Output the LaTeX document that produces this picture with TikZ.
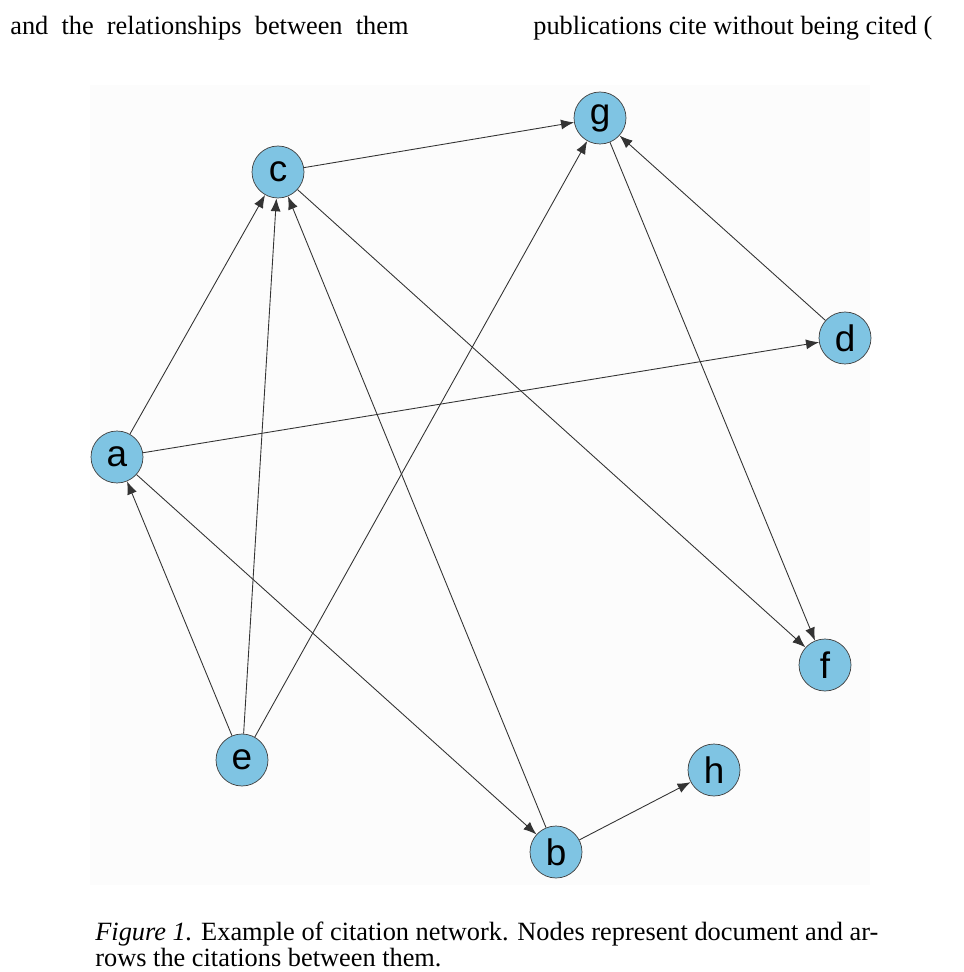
\documentclass[tikz,border=0pt]{standalone}
\usepackage{fontspec}
\newfontfamily\labelfont{Liberation Sans}
\setmainfont{Liberation Serif}
\usetikzlibrary{arrows.meta}
\definecolor{docblue}{HTML}{7FC4E3}
\tikzset{
	doc/.style={circle, draw=black!75, fill=docblue, minimum size=1.04cm, inner sep=0pt, font=\labelfont\fontsize{21}{21}\selectfont}, % documentos
	cite/.style={-{Latex[length=2.6mm,width=2mm]}, draw=black!80, line width=0.5pt}, % citas
	prose/.style={anchor=base west, inner sep=0pt, font=\fontsize{15}{16}\selectfont}
}
\begin{document}
\begin{tikzpicture}[x=0.02cm, y=-0.02cm]
	\useasboundingbox (0,0) rectangle (963,972);
	\clip (0,0) rectangle (963,972);
	\fill[black!1] (90,85) rectangle (870,885);
	% texto alrededor
	\node[prose] (t2) at (10,35) {and \ the \ relationships \ between \ them};
	\node[prose] (t4) at (533,35) {publications cite without being cited (};
	\node[prose] (cap1) at (95,940) {\textit{Figure 1.} Example of citation network. Nodes represent document and ar-};
	\node[prose] (cap2) at (95,966) {rows the citations between them.};
	% nodos
	\node[doc] (c) at (278,172) {c};
	\node[doc] (g) at (600,118) {g};
	\node[doc] (d) at (845,338) {d};
	\node[doc] (a) at (117,457) {a};
	\node[doc] (f) at (825,665) {f};
	\node[doc] (e) at (242,760) {e};
	\node[doc] (h) at (714,770) {h};
	\node[doc] (b) at (556,852) {b};
	% citas
	\draw[cite] (c) -- (g);
	\draw[cite] (a) -- (c);
	\draw[cite] (e) -- (c);
	\draw[cite] (b) -- (c);
	\draw[cite] (c) -- (f);
	\draw[cite] (e) -- (g);
	\draw[cite] (g) -- (f);
	\draw[cite] (d) -- (g);
	\draw[cite] (a) -- (d);
	\draw[cite] (e) -- (a);
	\draw[cite] (a) -- (b);
	\draw[cite] (b) -- (h);
\end{tikzpicture}
\end{document}
